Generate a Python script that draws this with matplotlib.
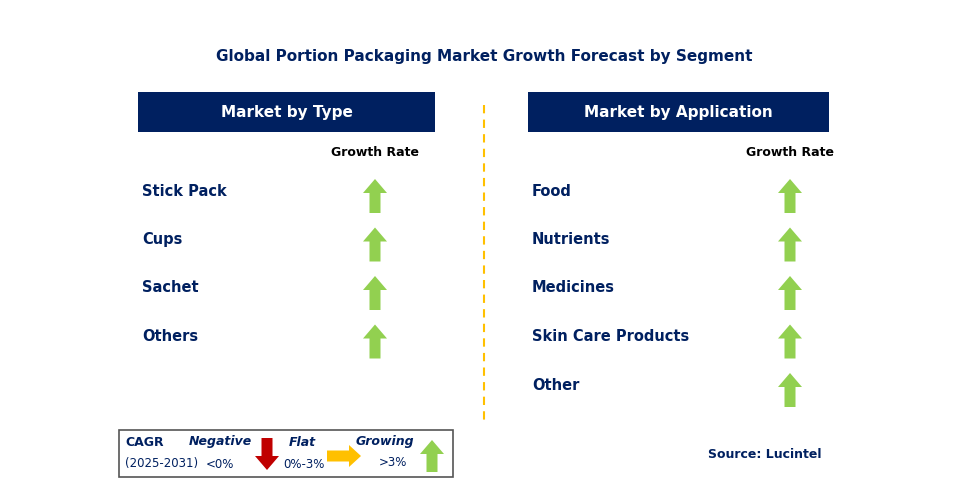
import matplotlib.pyplot as plt
from matplotlib.patches import Rectangle, FancyArrow

title = "Global Portion Packaging Market Growth Forecast by Segment"
type_labels = ["Stick Pack", "Cups", "Sachet", "Others"]
type_trend = ["up", "up", "up", "up"]
app_labels = ["Food", "Nutrients", "Medicines", "Skin Care Products", "Other"]
app_trend = ["up", "up", "up", "up", "up"]

NAVY = "#002060"
GREEN = "#92d050"
RED = "#c00000"
AMBER = "#ffc000"

fig = plt.figure(figsize=(9.57, 5.04), dpi=100)
ax = fig.add_axes([0, 0, 1, 1])
ax.set_xlim(0, 957)
ax.set_ylim(504, 0)
ax.axis("off")

ax.text(484, 57, title, ha="center", va="center", fontsize=11, fontweight="bold", color=NAVY)


def up_arrow(x, ybot, ytop, color):
    ax.add_patch(FancyArrow(x, ybot, 0, ytop - ybot, width=11, head_width=24,
                            head_length=14, length_includes_head=True,
                            color=color, lw=0))


def panel(x0, x1, header, labels, trends, arrow_x):
    ax.add_patch(Rectangle((x0, 92), x1 - x0, 40, color=NAVY, lw=0))
    ax.text((x0 + x1) / 2, 112, header, ha="center", va="center",
            fontsize=11, fontweight="bold", color="white")
    ax.text(arrow_x, 152, "Growth Rate", ha="center", va="center",
            fontsize=9, fontweight="bold", color="black")
    for i, (lab, tr) in enumerate(zip(labels, trends)):
        y = 191 + i * 48.5
        ax.text(x0 + 4, y, lab, ha="left", va="center", fontsize=10.5,
                fontweight="bold", color=NAVY)
        if tr == "up":
            up_arrow(arrow_x, y + 22, y - 12, GREEN)


panel(138, 435, "Market by Type", type_labels, type_trend, 375)
panel(528, 829, "Market by Application", app_labels, app_trend, 790)

ax.plot([484, 484], [105, 422], ls=(0, (4, 3)), color=AMBER, lw=1.5)

# legend
ax.add_patch(Rectangle((119, 430), 334, 47, fill=False, ec="#555555", lw=1.2))
ax.text(125, 443, "CAGR", fontsize=9, fontweight="bold", color=NAVY, va="center")
ax.text(125, 463, "(2025-2031)", fontsize=8.5, color=NAVY, va="center")
ax.text(220, 442, "Negative", fontsize=9, fontweight="bold", style="italic", color=NAVY, ha="center", va="center")
ax.text(220, 464, "<0%", fontsize=8.5, color=NAVY, ha="center", va="center")
ax.add_patch(FancyArrow(267, 438, 0, 32, width=11, head_width=24, head_length=14,
                        length_includes_head=True, color=RED, lw=0))
ax.text(302, 442, "Flat", fontsize=9, fontweight="bold", style="italic", color=NAVY, ha="center", va="center")
ax.text(304, 464, "0%-3%", fontsize=8.5, color=NAVY, ha="center", va="center")
ax.add_patch(FancyArrow(327, 456, 34, 0, width=11, head_width=22, head_length=12,
                        length_includes_head=True, color=AMBER, lw=0))
ax.text(385, 442, "Growing", fontsize=9, fontweight="bold", style="italic", color=NAVY, ha="center", va="center")
ax.text(393, 463, ">3%", fontsize=8.5, color=NAVY, ha="center", va="center")
up_arrow(432, 472, 440, GREEN)

ax.text(765, 455, "Source: Lucintel", ha="center", va="center", fontsize=9,
        fontweight="bold", color=NAVY)

fig.savefig("out.png", dpi=100)
